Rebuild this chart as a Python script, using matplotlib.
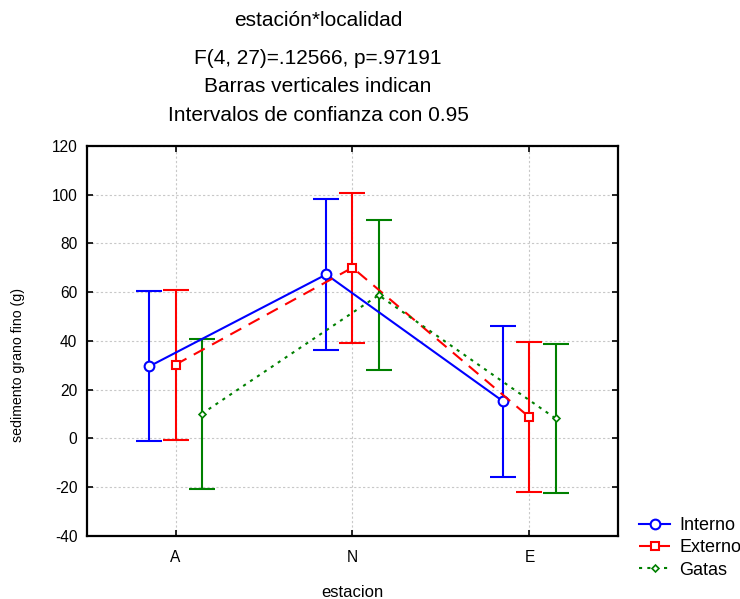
import matplotlib
matplotlib.use("Agg")
import matplotlib.pyplot as plt
import numpy as np

plt.rcParams['font.family'] = ['Liberation Sans', 'DejaVu Sans']
plt.rcParams['axes.unicode_minus'] = False

estaciones = ['A', 'N', 'E']
series = ['Interno', 'Externo', 'Gatas']
medias = {
    'Interno': [29.6, 67.3, 15.2],
    'Externo': [30.3, 70.1, 8.7],
    'Gatas': [10.1, 58.8, 8.2],
}
ic95 = {
    'Interno': [30.8, 30.8, 30.8],
    'Externo': [30.8, 30.8, 30.8],
    'Gatas': [30.7, 30.7, 30.7],
}
titulo = ['estación*localidad', 'F(4, 27)=.12566, p=.97191',
          'Barras verticales indican', 'Intervalos de confianza con 0.95']

estilos = {
    'Interno': dict(color='#0000ff', ls='-', marker='o', ms=7, mew=1.5, off=-0.148),
    'Externo': dict(color='#ff0000', ls=(0, (6, 4)), marker='s', ms=6.3, mew=1.5, off=0.0),
    'Gatas': dict(color='#008000', ls=(0, (1.5, 2.5)), marker='D', ms=3.5, mew=1.2, off=0.148),
}

fig = plt.figure(figsize=(7.4, 5.99), dpi=100)
ax = fig.add_axes([0.1176, 0.1052, 0.7174, 0.6511])

x = np.arange(len(estaciones))
for s in series:
    st = estilos[s]
    xs = x + st['off']
    ax.errorbar(xs, medias[s], yerr=ic95[s], fmt='none', ecolor=st['color'],
                elinewidth=1.5, capsize=9.5, capthick=1.5, zorder=2)
    ax.plot(xs, medias[s], color=st['color'], ls=st['ls'], lw=1.5,
            marker=st['marker'], ms=st['ms'], mew=st['mew'],
            mfc='white', mec=st['color'], label=s, zorder=3)

ax.set_xlim(-0.5, 2.5)
ax.set_ylim(-40, 120)
ax.set_xticks(x)
ax.set_xticklabels(estaciones)
ax.set_yticks(np.arange(-40, 121, 20))
ax.grid(True, color='#c8c8c8', ls=(0, (2, 2)), lw=0.8)
ax.set_axisbelow(True)
ax.tick_params(direction='in', top=True, right=True, length=4, width=1.2,
               labelsize=11.2)
ax.tick_params(axis='y', pad=7)
ax.tick_params(axis='x', pad=10)
for sp in ax.spines.values():
    sp.set_linewidth(1.6)

ax.set_xlabel('estacion', fontsize=12)
ax.xaxis.set_label_coords(0.5, -0.125)
ax.set_ylabel('sedimento grano fino (g)', fontsize=10.2)
ax.yaxis.set_label_coords(-0.117, 0.438)

ys = [0.965, 0.903, 0.855, 0.808]
for t, y in zip(titulo, ys):
    fig.text(318 / 740, y, t, ha='center', va='center', fontsize=15)

fig.legend(loc='upper left', bbox_to_anchor=(0.864, 0.137), frameon=False,
           fontsize=13, handlelength=1.7, handletextpad=0.5,
           labelspacing=0.3, borderaxespad=0, borderpad=0)

fig.savefig('out.png', dpi=100)
